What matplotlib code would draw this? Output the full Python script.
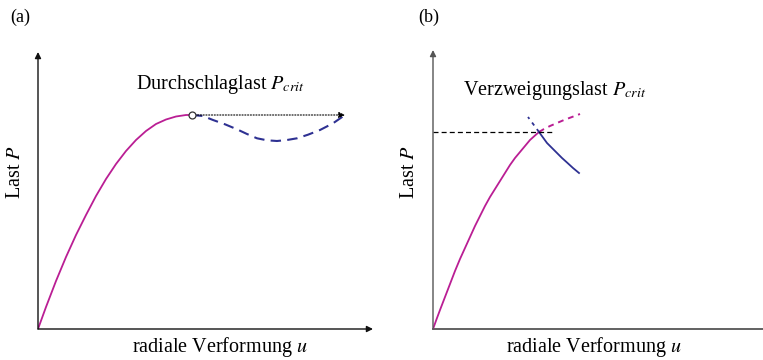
import matplotlib.pyplot as plt

plt.rcParams["font.family"] = ["Liberation Serif", "DejaVu Serif"]
plt.rcParams["mathtext.fontset"] = "stix"

MAGENTA = "#BA1E94"
BLUE = "#2E3192"

# (a) snap-through: stable branch up to the limit point, then unstable branch
a_rise_u = [0, 8, 18, 28, 38, 48, 58, 68, 78, 88, 98, 108, 118, 128, 138, 148, 154]
a_rise_P = [0, 22, 48, 72, 94, 114, 133, 150, 165, 178, 189, 198, 205, 209.5, 212.5, 214, 214]
a_snap_u = [154, 165, 175, 187, 199, 209, 219, 229, 239, 249, 259, 270, 282, 295, 307]
a_snap_P = [214, 213, 209, 204.7, 199.7, 195, 190.7, 188.7, 188, 189, 190.7, 194.3, 199, 205.7, 214]
a_limit = (154, 214)
a_jump_end = 307

# (b) bifurcation: primary path, secondary branch, continuation of primary
b_rise_u = [0, 4, 7, 12, 17, 22, 27, 32, 37, 42, 47, 52, 57, 62, 67, 72, 77, 82, 87, 92, 97, 102, 106]
b_rise_P = [0, 11, 19, 32, 45, 58, 70, 81, 92, 103, 113, 123, 132, 140, 148, 156, 164, 171, 177, 183, 189, 193.5, 197]
b_cont_u = [106, 111, 117, 124, 131, 139, 147]
b_cont_P = [197, 200, 203, 206, 209, 212, 215]
b_branch_u = [106, 110, 114, 119, 124, 129, 134, 140, 146]
b_branch_P = [197, 191.5, 186, 181, 176, 171, 166.5, 161, 156]
b_branch_back_u = [106, 95]
b_branch_back_P = [197, 212]
b_crit_end = 120

fig = plt.figure(figsize=(7.63, 3.6), dpi=100)


def frame(left, width, height, color, x_arrow=True):
    ax = fig.add_axes([left / 763, 31 / 360, width / 763, height / 360])
    ax.set_xlim(0, width)
    ax.set_ylim(0, height)
    ax.axis("off")
    ax.annotate("", xy=(0, height), xytext=(0, 0),
                arrowprops=dict(arrowstyle="-|>", color=color, lw=1.0,
                                mutation_scale=9, shrinkA=0, shrinkB=0),
                annotation_clip=False)
    if x_arrow:
        ax.annotate("", xy=(width, 0), xytext=(0, 0),
                    arrowprops=dict(arrowstyle="-|>", color=color, lw=1.0,
                                    mutation_scale=9, shrinkA=0, shrinkB=0),
                    annotation_clip=False)
    else:
        ax.plot([0, width], [0, 0], color=color, lw=1.3, clip_on=False)
    return ax


# ---- panel (a)
ax = frame(38, 335, 277, "#111111")
ax.plot(a_rise_u, a_rise_P, color=MAGENTA, lw=1.3)
ax.plot(a_snap_u, a_snap_P, color=BLUE, lw=1.5, ls=(0, (5, 3)))
ax.annotate("", xy=(a_jump_end, a_limit[1]), xytext=a_limit,
            arrowprops=dict(arrowstyle="-|>", color="black", lw=0.8,
                            ls=(0, (1, 1.5)), mutation_scale=9,
                            shrinkA=0, shrinkB=0))
ax.plot(*a_limit, "o", ms=5, mfc="white", mec="#333333", mew=0.9, zorder=5)
ax.text(98, 244, "Durchschlaglast $P_{crit}$", fontsize=14.5, va="center")
ax.text(-23, 157, "Last $P$", fontsize=14.5, rotation=90,
        ha="center", va="center")
ax.text(182, -18, "radiale Verformung $u$", fontsize=14.5,
        ha="center", va="center")
fig.text(10 / 763, 1 - 17 / 360, "(a)", fontsize=13, va="center")

# ---- panel (b)
bx = frame(433, 330, 279, "#555555", x_arrow=False)
bx.plot(b_rise_u, b_rise_P, color=MAGENTA, lw=1.3)
bx.plot(b_cont_u, b_cont_P, color=MAGENTA, lw=1.4, ls=(0, (3, 2.5)))
bx.plot(b_branch_u, b_branch_P, color=BLUE, lw=1.3)
bx.plot(b_branch_back_u, b_branch_back_P, color=BLUE, lw=1.3,
        ls=(0, (2, 2.5)))
bx.plot([0, b_crit_end], [b_rise_P[-1], b_rise_P[-1]], color="black",
        lw=0.9, ls=(0, (4, 2.5)))
bx.text(30, 239, "Verzweigungslast $P_{crit}$", fontsize=14.5, va="center")
bx.text(-23, 157, "Last $P$", fontsize=14.5, rotation=90,
        ha="center", va="center")
bx.text(161, -18, "radiale Verformung $u$", fontsize=14.5,
        ha="center", va="center")
fig.text(418 / 763, 1 - 17 / 360, "(b)", fontsize=13, va="center")

fig.savefig("out.png", dpi=100, facecolor="white")
